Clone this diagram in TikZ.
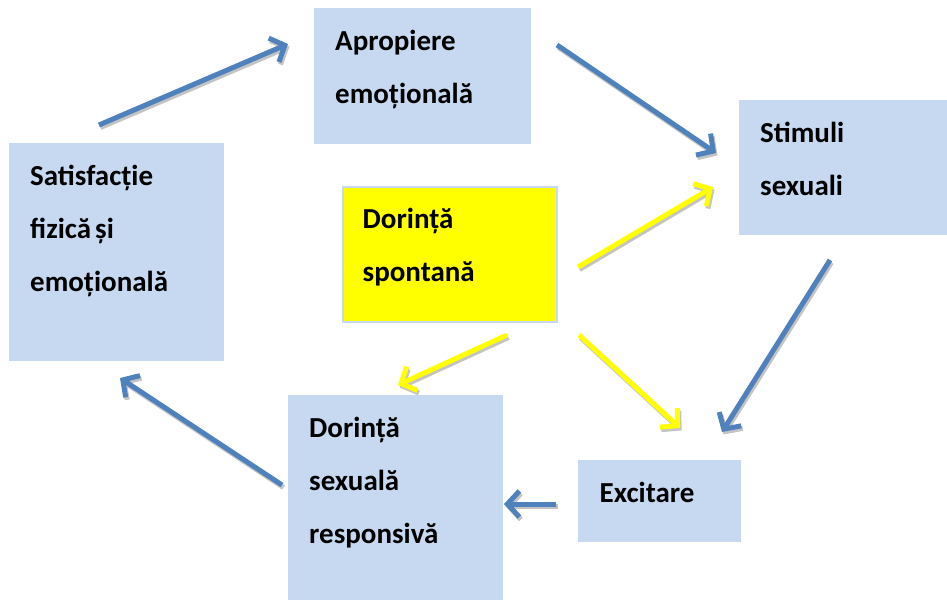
\documentclass[tikz,border=0pt]{standalone}
\usepackage{fontspec}
\setmainfont{Carlito}
\usetikzlibrary{arrows.meta}
\definecolor{boxblue}{HTML}{C6D9F1}
\definecolor{arrblue}{HTML}{4F81BD}
\definecolor{arryellow}{HTML}{FFFF00}
\definecolor{shadowgray}{HTML}{C4C4C4}
\tikzset{
  box/.style={fill=boxblue, draw=none, inner sep=0pt, outer sep=0pt},
  ybox/.style={fill=arryellow, draw=boxblue, line width=2pt, inner sep=0pt, outer sep=0pt},
  lbl/.style={anchor=base west, inner sep=0pt, text width=200pt, align=left,
    font=\fontsize{29}{53}\selectfont\bfseries},
  arr/.style={line width=5pt,
    -{Straight Barb[length=12pt,width=26pt,line width=5pt]}},
  barr/.style={arr, draw=arrblue},
  yarr/.style={arr, draw=arryellow},
  shad/.style={arr, draw=shadowgray},
}
\begin{document}
\begin{tikzpicture}[x=1pt,y=-1pt]
\useasboundingbox (0,0) rectangle (947,600);
% boxes
\node[box, minimum width=217pt, minimum height=136pt] (apr) at (422.5,76) {};
\node[box, minimum width=208pt, minimum height=135pt] (stim) at (843,167.5) {};
\node[box, minimum width=215pt, minimum height=218pt] (sat) at (116.5,252) {};
\node[ybox, minimum width=214pt, minimum height=135pt] (spont) at (449.5,254) {};
\node[box, minimum width=215pt, minimum height=205pt] (resp) at (395.5,497.5) {};
\node[box, minimum width=163pt, minimum height=82pt] (exc) at (659,501) {};
% labels
\node[lbl] (tapr) at ([xshift=21pt,yshift=-42pt]apr.north west) {Apropiere\\emoțională};
\node[lbl] (tstim) at ([xshift=21pt,yshift=-42pt]stim.north west) {Stimuli\\sexuali};
\node[lbl] (tsat) at ([xshift=21pt,yshift=-42pt]sat.north west) {Satisfacție\\fizică\hspace{4pt}și\\emoțională};
\node[lbl] (tspont) at ([xshift=20pt,yshift=-42pt]spont.north west) {Dorință\\spontană};
\node[lbl] (tresp) at ([xshift=21pt,yshift=-42pt]resp.north west) {Dorință\\sexuală\\responsivă};
\node[lbl] (texc) at ([xshift=22pt,yshift=-42pt]exc.north west) {Excitare};
% arrow end points
\coordinate (a1s) at (99,125);  \coordinate (a1e) at (288,44);
\coordinate (a2s) at (557,45);  \coordinate (a2e) at (716,153);
\coordinate (a3s) at (830,260); \coordinate (a3e) at (722,432);
\coordinate (a4s) at (556,504); \coordinate (a4e) at (504,504);
\coordinate (a5s) at (282,485); \coordinate (a5e) at (120,378);
\coordinate (y1s) at (578,267); \coordinate (y1e) at (713,187);
\coordinate (y2s) at (507,335); \coordinate (y2e) at (398,385);
\coordinate (y3s) at (579,335); \coordinate (y3e) at (680,428);
% shadows
\foreach \p in {a1,a2,a3,a4,a5,y1,y2,y3}
  \draw[shad] ([shift={(1.5,2.5)}]\p s) -- ([shift={(1.5,2.5)}]\p e);
% arrows
\draw[barr] (a1s) -- (a1e);
\draw[barr] (a2s) -- (a2e);
\draw[barr] (a3s) -- (a3e);
\draw[barr] (a4s) -- (a4e);
\draw[barr] (a5s) -- (a5e);
\draw[yarr] (y1s) -- (y1e);
\draw[yarr] (y2s) -- (y2e);
\draw[yarr] (y3s) -- (y3e);
\end{tikzpicture}
\end{document}
